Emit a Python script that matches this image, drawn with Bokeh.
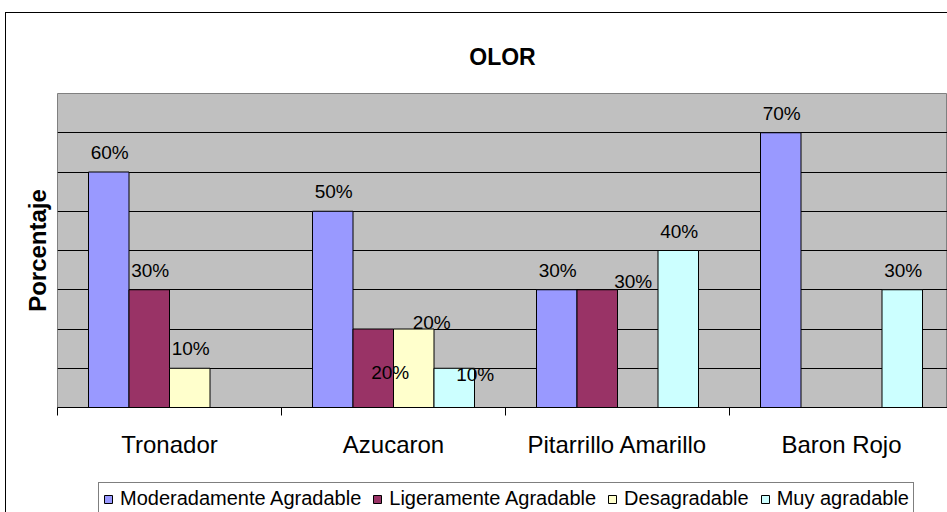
from bokeh.plotting import figure
from bokeh.layouts import column
from bokeh.models import (ColumnDataSource, FixedTicker, Legend, LegendItem,
                          LabelSet, Range1d, InlineStyleSheet)
from bokeh.core.properties import value
from bokeh.embed import file_html
from bokeh.resources import INLINE

# ---------------- data ----------------
title_text = "OLOR"
y_label = "Porcentaje"
categories = ["Tronador", "Azucaron", "Pitarrillo Amarillo", "Baron Rojo"]
series_names = ["Moderadamente Agradable", "Ligeramente Agradable",
                "Desagradable", "Muy agradable"]
moderadamente_agradable = [60, 50, 30, 70]
ligeramente_agradable = [30, 20, 30, 0]
desagradable = [10, 20, 0, 0]
muy_agradable = [0, 10, 40, 30]
series_values = [moderadamente_agradable, ligeramente_agradable,
                 desagradable, muy_agradable]
y_grid_values = [10, 20, 30, 40, 50, 60, 70]
y_max = 80

# ---------------- styles ----------------
colors = ["#9999FF", "#993366", "#FFFFCC", "#CCFFFF"]
FONT = "Liberation Sans"
bar_w = 40.5 / 224.0          # bar width as fraction of a category
visible_categories = 890 / 224.0
# label nudges in px (dx right, dy up); default sits above the bar
default_nudge = (1, 13)
label_nudges = {(1, 1): (17, -50), (1, 2): (18, 0), (1, 3): (21, -13),
                (2, 1): (36, 2)}

p = figure(width=941, height=463,
           x_range=Range1d(0, visible_categories), y_range=Range1d(0, y_max),
           output_backend="svg", toolbar_location=None,
           min_border_left=51, min_border_top=80, min_border_bottom=69,
           min_border_right=0,
           background_fill_color="#C0C0C0", border_fill_color="white",
           outline_line_color="#808080")

p.title.text = title_text
p.title.text_font = FONT
p.title.text_font_size = "23px"
p.title.text_font_style = "bold"
p.title.text_color = "black"
p.title.align = "center"
p.title.offset = -11
p.title.standoff = 48

# ---------------- legend strip below the chart ----------------
p2 = figure(width=941, height=36, output_backend="svg", toolbar_location=None,
            x_range=Range1d(0, visible_categories), y_range=Range1d(-2, -1),
            min_border_left=0, min_border_right=0, min_border_top=0,
            min_border_bottom=0, outline_line_color=None,
            background_fill_color="white", border_fill_color="white")
p2.xaxis.visible = False
p2.yaxis.visible = False
p2.xgrid.visible = False
p2.ygrid.visible = False

lx, ly, lt, ldx, ldy = [], [], [], [], []
items = []
for j, (name, vals) in enumerate(zip(series_names, series_values)):
    xs, tops = [], []
    for i, v in enumerate(vals):
        if v <= 0:
            continue
        x = i + 0.5 + (j - 1.5) * bar_w
        xs.append(x)
        tops.append(v)
        dx, dy = label_nudges.get((i, j), default_nudge)
        lx.append(x); ly.append(v); lt.append(f"{v}%")
        ldx.append(dx); ldy.append(dy)
    src = ColumnDataSource(dict(x=xs, top=tops))
    p.vbar(x="x", top="top", width=bar_w, source=src,
           fill_color=colors[j], line_color="black", line_width=1)
    # hidden copy in the legend strip, only to feed the legend swatches
    r2 = p2.vbar(x="x", top="top", width=bar_w, source=src,
                 fill_color=colors[j], line_color="black", line_width=1)
    r2.visible = False
    items.append(LegendItem(label=name, renderers=[r2]))

lsrc = ColumnDataSource(dict(x=lx, y=ly, text=lt, dx=ldx, dy=ldy))
labels = LabelSet(x="x", y="y", text="text", x_offset="dx", y_offset="dy",
                  source=lsrc, text_align="center", text_baseline="alphabetic",
                  text_font=value(FONT), text_font_size="19px", text_color="black")
p.add_layout(labels)

# grid
p.xgrid.visible = False
p.ygrid.ticker = FixedTicker(ticks=y_grid_values)
p.ygrid.grid_line_color = "black"
p.ygrid.grid_line_width = 1

# x axis
p.xaxis.ticker = FixedTicker(ticks=[i + 0.5 for i in range(len(categories))],
                             minor_ticks=list(range(len(categories) + 1)))
p.xaxis.major_label_overrides = {i + 0.5: c for i, c in enumerate(categories)}
p.xaxis.major_tick_line_color = None
p.xaxis.major_tick_out = 8
p.xaxis.major_tick_in = 0
p.xaxis.minor_tick_line_color = "black"
p.xaxis.minor_tick_out = 8
p.xaxis.minor_tick_in = 0
p.xaxis.axis_line_color = "black"
p.xaxis.major_label_text_font = FONT
p.xaxis.major_label_text_font_size = "24px"
p.xaxis.major_label_text_color = "black"
p.xaxis.major_label_standoff = 15

# y axis (label only)
p.yaxis.ticker = FixedTicker(ticks=[])
p.yaxis.axis_line_color = None
p.yaxis.major_tick_line_color = None
p.yaxis.minor_tick_line_color = None
p.yaxis.major_label_text_font_size = "0px"
p.yaxis.major_label_standoff = 0
p.yaxis.axis_label = y_label
p.yaxis.axis_label_text_font = FONT
p.yaxis.axis_label_text_font_size = "24px"
p.yaxis.axis_label_text_font_style = "bold"
p.yaxis.axis_label_text_color = "black"
p.yaxis.axis_label_standoff = 7

legend = Legend(items=items, orientation="horizontal", location=(41, -3),
                label_text_font=FONT, label_text_font_size="20px",
                label_text_color="black",
                glyph_width=10, glyph_height=10, label_standoff=7, spacing=11,
                padding=4, margin=0, border_line_color="black",
                border_line_width=1, background_fill_color="white",
                background_fill_alpha=1.0)
p2.add_layout(legend, "center")

layout = column(p, p2, spacing=0, margin=(13, 0, 0, 6),
                stylesheets=[InlineStyleSheet(css=":host { outline: 1px solid #000; }")])

open("out.html", "w").write(file_html(layout, INLINE))
